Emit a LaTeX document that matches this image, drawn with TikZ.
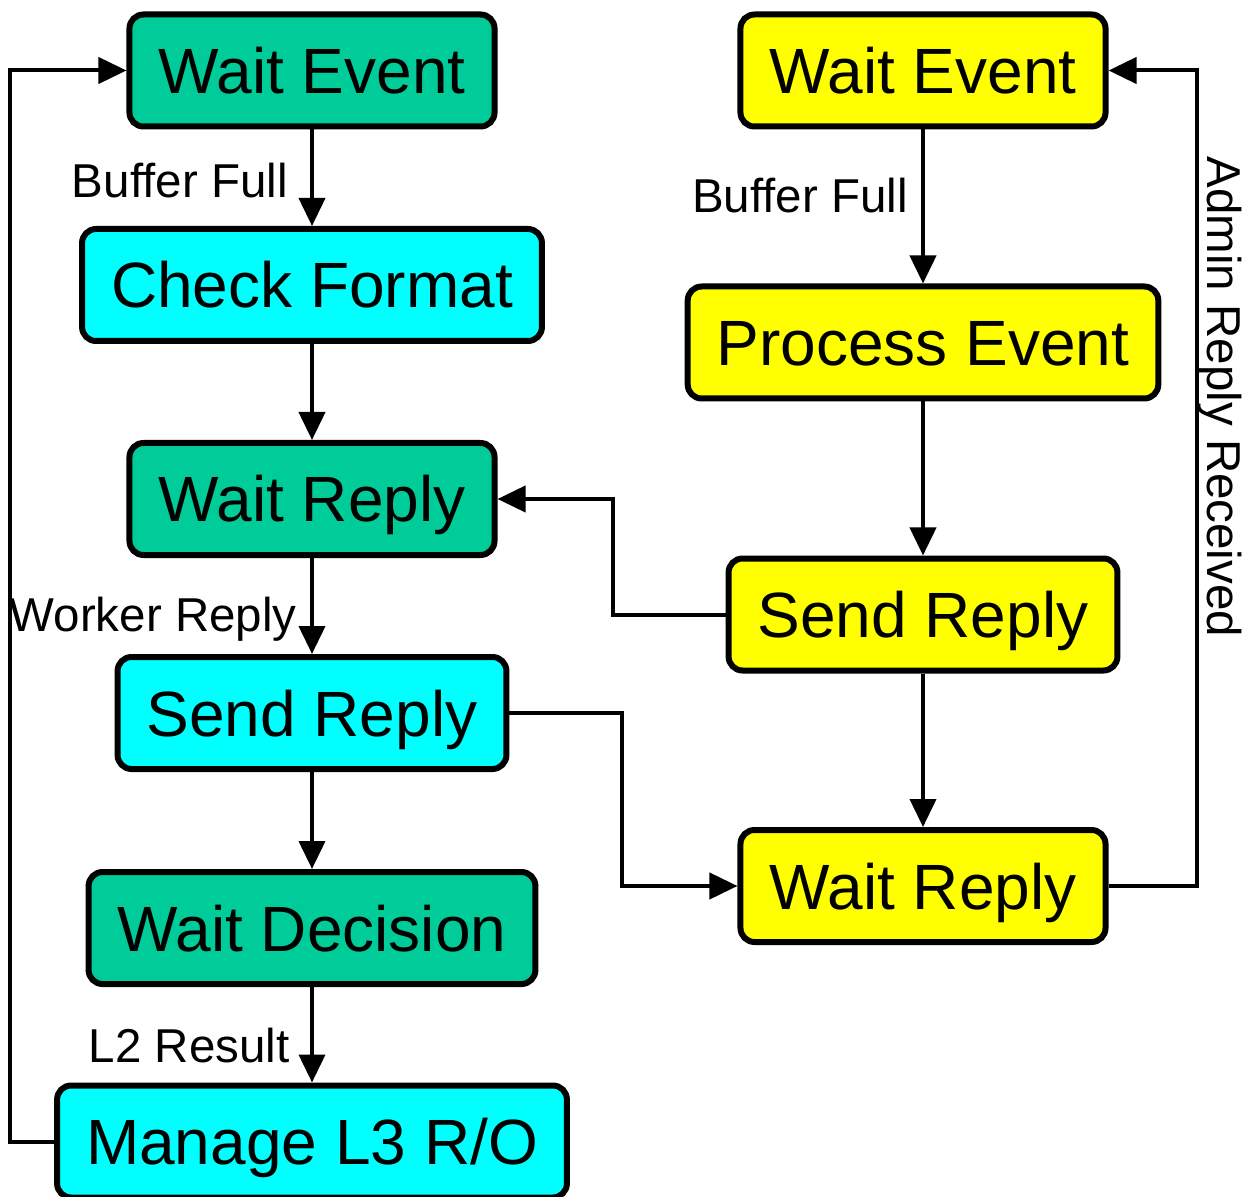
\documentclass[tikz,border=0pt]{standalone}
\usepackage{fontspec}
\setmainfont{Liberation Sans}
\usetikzlibrary{arrows.meta}

\definecolor{stategreen}{RGB}{0,204,153}
\definecolor{statecyan}{RGB}{0,255,255}
\definecolor{stateyellow}{RGB}{255,255,0}

\begin{document}
\begin{tikzpicture}[x=0.5pt,y=-0.5pt,
    state/.style={draw, line width=3pt, rounded corners=7pt, minimum height=56pt,
        inner xsep=14.5pt, text height=23pt, text depth=0pt,
        font=\fontsize{32}{38}\selectfont},
    flow/.style={line width=2pt, -{Triangle[length=14pt,width=13pt]}},
    lbl/.style={inner sep=0pt, font=\fontsize{23.75}{28}\selectfont}]
    \useasboundingbox (0,0) rectangle (1252,1197);

    \node[state, fill=stategreen] (lwe) at (312,70.5) {Wait Event};
    \node[state, fill=statecyan] (lcf) at (312,285) {Check Format};
    \node[state, fill=stategreen] (lwr) at (312,499) {Wait Reply};
    \node[state, fill=statecyan] (lsr) at (312,713) {Send Reply};
    \node[state, fill=stategreen] (lwd) at (312,928) {Wait Decision};
    \node[state, fill=statecyan] (lml) at (312,1141.5) {Manage L3 R/O};

    \node[state, fill=stateyellow] (rwe) at (923,70.5) {Wait Event};
    \node[state, fill=stateyellow] (rpe) at (923,342.5) {Process Event};
    \node[state, fill=stateyellow] (rsr) at (923,614.5) {Send Reply};
    \node[state, fill=stateyellow] (rwr) at (923,886) {Wait Reply};

    \node[lbl, anchor=base east] (bfl) at (288,198) {Buffer Full};
    \node[lbl, anchor=base east] (bfr) at (908,213) {Buffer Full};
    \node[lbl, anchor=base east] (wkr) at (297,631) {Worker Reply};
    \node[lbl, anchor=base east] (ltr) at (290,1062) {L2 Result};
    \node[lbl, rotate=-90, anchor=base] (arr) at (1207,397) {Admin Reply Received};

    \draw[flow] (lwe) -- (lcf);
    \draw[flow] (lcf) -- (lwr);
    \draw[flow] (lwr) -- (lsr);
    \draw[flow] (lsr) -- (lwd);
    \draw[flow] (lwd) -- (lml);
    \draw[flow] (lml.west) -- ++(-44,0) |- (lwe.west);

    \draw[flow] (rwe) -- (rpe);
    \draw[flow] (rpe) -- (rsr);
    \draw[flow] (rsr) -- (rwr);
    \draw[flow] (rwr.east) -- ++(88.5,0) |- (rwe.east);

    \draw[flow] (rsr.west) -- ++(-112.5,0) |- (lwr.east);
    \draw[flow] (lsr.east) -- ++(112.5,0) |- (rwr.west);
\end{tikzpicture}
\end{document}
